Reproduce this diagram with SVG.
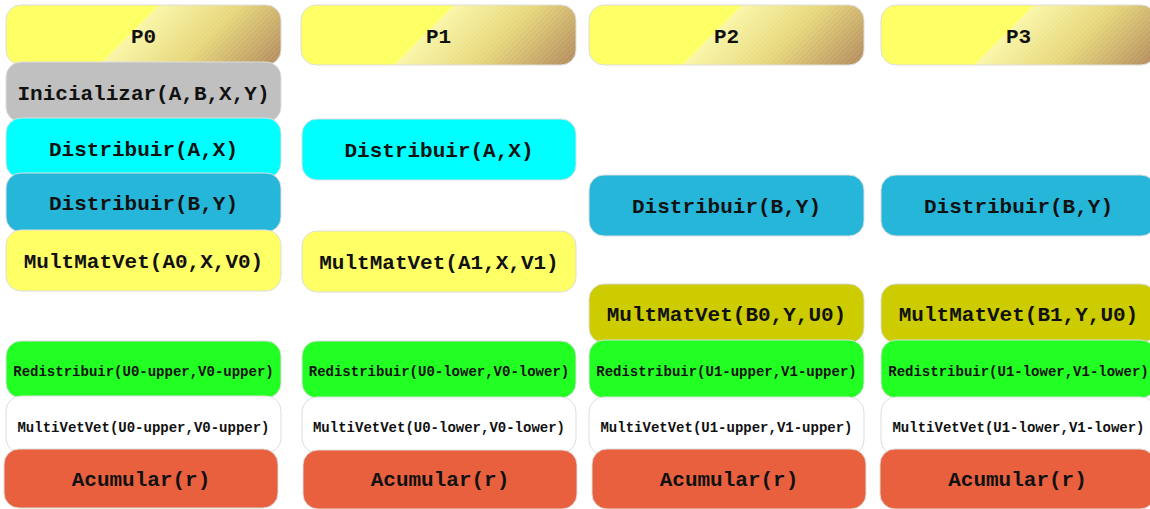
<svg xmlns="http://www.w3.org/2000/svg" width="1150" height="509" viewBox="0 0 1150 509">
<style>
.box{stroke:#dddddd;stroke-width:1}
.hdr{stroke:#dddddd;stroke-width:1}
.t{font-family:"Liberation Mono","Courier New",monospace;font-weight:bold;font-size:21px;fill:#111;text-anchor:middle}
.s{font-family:"Liberation Mono","Courier New",monospace;font-weight:bold;font-size:14px;fill:#111;text-anchor:middle}
.grey{fill:#c0c0c0}.cyan{fill:#00ffff}.blue{fill:#26b6da}.yel{fill:#ffff66}.olive{fill:#cccc00}.green{fill:#22ff22}.white{fill:#ffffff}.orange{fill:#e8603e}
</style>
<defs>
<linearGradient id="hg" gradientUnits="userSpaceOnUse" x1="0" y1="0" x2="167.5" y2="167.5">
<stop offset="0" stop-color="#ffff66"/>
<stop offset="0.455" stop-color="#ffff66"/>
<stop offset="0.46" stop-color="#f9f6a6"/>
<stop offset="0.7" stop-color="#e6d679"/>
<stop offset="1" stop-color="#b1875a"/>
</linearGradient>
<pattern id="stripes" patternUnits="userSpaceOnUse" width="3.5" height="3.5" patternTransform="rotate(45)">
<rect x="0" y="0" width="1.2" height="3.5" fill="#ffffff" fill-opacity="0.12"/>
</pattern>
<clipPath id="hclip" clipPathUnits="userSpaceOnUse"><rect x="0" y="0" width="275" height="60" rx="15"/></clipPath>
<g id="header">
<rect class="hdr" x="0" y="0" width="275" height="60" rx="15" fill="url(#hg)"/>
<polygon points="152,0 280,0 280,60 92,60" fill="url(#stripes)" clip-path="url(#hclip)"/>
</g>
</defs>
<g id="connectors"></g>

<g id="p0">
<use href="#header" transform="translate(6,5)"/>
<text class="t" x="143.5" y="42.5">P0</text>
</g>
<g id="p1">
<use href="#header" transform="translate(301,5)"/>
<text class="t" x="438.5" y="42.5">P1</text>
</g>
<g id="p2">
<use href="#header" transform="translate(589,5)"/>
<text class="t" x="726.5" y="42.5">P2</text>
</g>
<g id="p3">
<use href="#header" transform="translate(881,5)"/>
<text class="t" x="1018.5" y="42.5">P3</text>
</g>

<g id="p0-init"><rect class="box grey" x="6" y="62" width="275" height="60" rx="15"/><text class="t" x="143.5" y="99.5">Inicializar(A,B,X,Y)</text></g>
<g id="p0-distA"><rect class="box cyan" x="6" y="118" width="275" height="60" rx="15"/><text class="t" x="143.5" y="155.5">Distribuir(A,X)</text></g>
<g id="p0-distB"><rect class="box blue" x="6" y="173" width="275" height="59" rx="15"/><text class="t" x="143.5" y="210">Distribuir(B,Y)</text></g>
<g id="p0-mult"><rect class="box yel" x="6" y="230" width="275" height="61" rx="15"/><text class="t" x="143.5" y="268">MultMatVet(A0,X,V0)</text></g>
<g id="p0-redist"><rect class="box green" x="6" y="341" width="275" height="57" rx="15"/><text class="s" x="143.5" y="376">Redistribuir(U0-upper,V0-upper)</text></g>
<g id="p0-mvv"><rect class="box white" x="6" y="396" width="275" height="57" rx="15"/><text class="s" x="143.5" y="432">MultiVetVet(U0-upper,V0-upper)</text></g>
<g id="p0-acc"><rect class="box orange" x="4" y="449" width="274" height="59" rx="15"/><text class="t" x="141" y="486">Acumular(r)</text></g>

<g id="p1-distA"><rect class="box cyan" x="302" y="119" width="274" height="61" rx="15"/><text class="t" x="439" y="157">Distribuir(A,X)</text></g>
<g id="p1-mult"><rect class="box yel" x="302" y="231" width="274" height="61" rx="15"/><text class="t" x="439" y="269">MultMatVet(A1,X,V1)</text></g>
<g id="p1-redist"><rect class="box green" x="302" y="341" width="274" height="57" rx="15"/><text class="s" x="439" y="376">Redistribuir(U0-lower,V0-lower)</text></g>
<g id="p1-mvv"><rect class="box white" x="302" y="397" width="274" height="56" rx="15"/><text class="s" x="439" y="432">MultiVetVet(U0-lower,V0-lower)</text></g>
<g id="p1-acc"><rect class="box orange" x="303" y="450" width="274" height="59" rx="15"/><text class="t" x="440" y="486">Acumular(r)</text></g>

<g id="p2-distB"><rect class="box blue" x="589" y="175" width="275" height="61" rx="15"/><text class="t" x="726.5" y="213">Distribuir(B,Y)</text></g>
<g id="p2-mult"><rect class="box olive" x="589" y="284" width="275" height="59" rx="15"/><text class="t" x="726.5" y="321">MultMatVet(B0,Y,U0)</text></g>
<g id="p2-redist"><rect class="box green" x="589" y="340" width="275" height="58" rx="15"/><text class="s" x="726.5" y="376">Redistribuir(U1-upper,V1-upper)</text></g>
<g id="p2-mvv"><rect class="box white" x="589" y="397" width="275" height="58" rx="15"/><text class="s" x="726.5" y="432">MultiVetVet(U1-upper,V1-upper)</text></g>
<g id="p2-acc"><rect class="box orange" x="592" y="449" width="274" height="60" rx="15"/><text class="t" x="729" y="486">Acumular(r)</text></g>

<g id="p3-distB"><rect class="box blue" x="881" y="175" width="275" height="61" rx="15"/><text class="t" x="1018.5" y="213">Distribuir(B,Y)</text></g>
<g id="p3-mult"><rect class="box olive" x="881" y="284" width="275" height="59" rx="15"/><text class="t" x="1018.5" y="321">MultMatVet(B1,Y,U0)</text></g>
<g id="p3-redist"><rect class="box green" x="881" y="340" width="275" height="58" rx="15"/><text class="s" x="1018.5" y="376">Redistribuir(U1-lower,V1-lower)</text></g>
<g id="p3-mvv"><rect class="box white" x="881" y="397" width="275" height="58" rx="15"/><text class="s" x="1018.5" y="432">MultiVetVet(U1-lower,V1-lower)</text></g>
<g id="p3-acc"><rect class="box orange" x="880" y="449" width="275" height="60" rx="15"/><text class="t" x="1017.5" y="486">Acumular(r)</text></g>
</svg>
